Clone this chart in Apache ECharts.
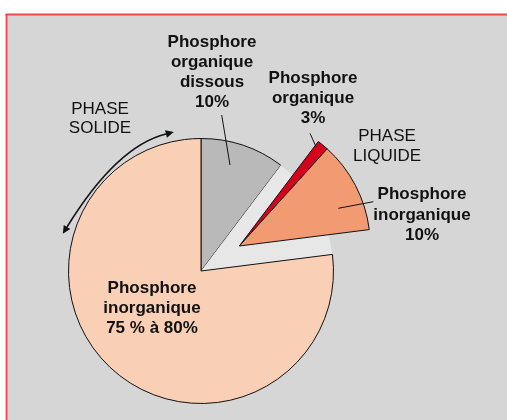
<!DOCTYPE html>
<html>
<head>
<meta charset="utf-8">
<script src="https://cdn.jsdelivr.net/npm/echarts@6/dist/echarts.min.js"></script>
<style>
html,body{margin:0;padding:0;background:#fff;}
#chart{width:507px;height:420px;}
</style>
</head>
<body>
<div id="chart"></div>
<script>
// Slice categories (clockwise from 12 o'clock)
const categories = ['Phosphore organique dissous', 'Phosphore organique', 'Phosphore inorganique (liquide)', 'Phosphore inorganique (solide)'];
// Shares as drawn in the picture (percent of the circle)
const values = [10.3, 1.4, 11.3, 77];
// Label texts as printed
const sliceLabels = ['Phosphore\norganique\ndissous\n10%', 'Phosphore\norganique\n3%', 'Phosphore\ninorganique\n10%', 'Phosphore\ninorganique\n75 % à 80%'];
const phaseLabels = ['PHASE\nSOLIDE', 'PHASE\nLIQUIDE'];

const colors = ['#b9b9b9', '#d6001c', '#f29a72', '#f9cfb6'];
const liquidBg = '#e7e7e7';

const chart = echarts.init(document.getElementById('chart'), null, {renderer: 'canvas'});

const border = {borderColor: '#111', borderWidth: 1};
const hidden = {color: 'rgba(0,0,0,0)', borderWidth: 0};

// Main pie (solid phase + liquid phase background)
const mainData = [
  {name: categories[0], value: values[0], itemStyle: Object.assign({color: colors[0]}, border)},
  {name: 'Phase liquide', value: values[1] + values[2], itemStyle: {color: liquidBg, borderWidth: 0}},
  {name: categories[3], value: values[3], itemStyle: Object.assign({color: colors[3]}, border)}
];
// Exploded liquid-phase slices
const liquidData = [
  {name: 'gap1', value: values[0], itemStyle: hidden},
  {name: categories[1], value: values[1], itemStyle: Object.assign({color: colors[1]}, border)},
  {name: categories[2], value: values[2], itemStyle: Object.assign({color: colors[2]}, border)},
  {name: 'gap2', value: values[3], itemStyle: hidden}
];

// Curved double arrow (PHASE SOLIDE)
const p0 = [166, 134], p2 = [67, 227], cp = [116.9, 146.1];
function arrowHead(base, ctrl, len, half) {
  let dx = base[0] - ctrl[0], dy = base[1] - ctrl[1];
  const n = Math.hypot(dx, dy); dx /= n; dy /= n;
  const tip = [base[0] + dx * len, base[1] + dy * len];
  const a = [base[0] - dy * half, base[1] + dx * half];
  const b = [base[0] + dy * half, base[1] - dx * half];
  return [tip, a, b];
}

const boldFont = 'bold 17px "Liberation Sans", Arial, sans-serif';
const regFont = '17px "Liberation Sans", Arial, sans-serif';
function txt(x, y, text, font, lh) {
  return {type: 'text', z: 100, x: x, y: y, silent: true,
    style: {text: text, font: font, fill: '#111', align: 'center', verticalAlign: 'middle', lineHeight: lh}};
}
function line(x1, y1, x2, y2, color, w, z) {
  return {type: 'line', z: z || 100, silent: true, shape: {x1: x1, y1: y1, x2: x2, y2: y2}, style: {stroke: color || '#111', lineWidth: w || 1}};
}

const option = {
  animation: false,
  backgroundColor: '#ffffff',
  graphic: [
    {type: 'rect', z: -10, silent: true, shape: {x: 6, y: 14, width: 520, height: 420}, style: {fill: '#d6d6d6'}},
    line(5.5, 14.5, 507, 14.5, '#f04848', 2, -5),
    line(6.5, 14, 6.5, 420, '#f04848', 1.8, -5),
    {type: 'bezierCurve', z: 100, silent: true, shape: {x1: p0[0], y1: p0[1], x2: p2[0], y2: p2[1], cpx1: cp[0], cpy1: cp[1]}, style: {stroke: '#111', lineWidth: 1.6, fill: null}},
    {type: 'polygon', z: 100, silent: true, shape: {points: arrowHead(p0, cp, 8, 3.8)}, style: {fill: '#111'}},
    {type: 'polygon', z: 100, silent: true, shape: {points: arrowHead(p2, cp, 8, 3.8)}, style: {fill: '#111'}},
    txt(212, 72, sliceLabels[0], boldFont, 20),
    txt(313, 98, sliceLabels[1], boldFont, 20),
    txt(422, 215, sliceLabels[2], boldFont, 20.5),
    txt(152, 308, sliceLabels[3], boldFont, 20),
    txt(100, 118.5, phaseLabels[0], regFont, 19),
    txt(387, 146, phaseLabels[1], regFont, 20),
    line(221.7, 115, 230, 165),
    line(310, 133.3, 316, 146.7),
    line(373.3, 201.7, 338.3, 208.3)
  ],
  series: [
    {
      type: 'pie', z: 2, center: [201, 271], radius: [0, 132.5], startAngle: 90, clockwise: true,
      label: {show: false}, labelLine: {show: false}, silent: true, emphasis: {disabled: true},
      data: mainData
    },
    {
      type: 'pie', z: 3, center: [239.3, 246], radius: [0, 131], startAngle: 90, clockwise: true,
      label: {show: false}, labelLine: {show: false}, silent: true, emphasis: {disabled: true},
      data: liquidData
    }
  ]
};
chart.setOption(option);
</script>
</body>
</html>
